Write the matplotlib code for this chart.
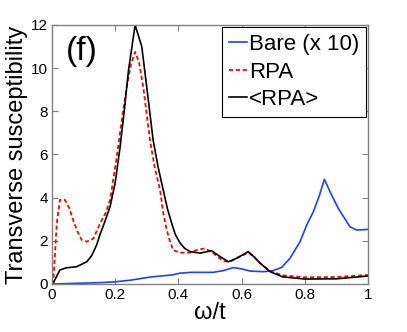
import matplotlib
matplotlib.use("Agg")
import matplotlib.pyplot as plt
from matplotlib.ticker import FuncFormatter

plt.rcParams['font.family'] = ['Liberation Sans', 'DejaVu Sans']

# Bare susceptibility (x 10)
w_bare = [0, 0.05, 0.1, 0.15, 0.2, 0.25, 0.31, 0.38, 0.405, 0.44, 0.51, 0.542, 0.574, 0.6, 0.627,
          0.669, 0.7, 0.727, 0.753, 0.785, 0.806, 0.827, 0.845, 0.862, 0.88, 0.906, 0.943, 0.964, 1.0]
chi_bare = [0, 0.02, 0.04, 0.06, 0.1, 0.18, 0.32, 0.42, 0.5, 0.54, 0.54, 0.62, 0.76, 0.7, 0.6,
            0.57, 0.62, 0.77, 1.19, 1.96, 2.73, 3.35, 4.05, 4.85, 4.27, 3.5, 2.65, 2.5, 2.53]

# RPA
w_rpa = [0, 0.004, 0.015, 0.025, 0.041, 0.055, 0.067, 0.08, 0.094, 0.11, 0.131, 0.152, 0.17,
         0.184, 0.205, 0.221, 0.236, 0.25, 0.263, 0.275, 0.289, 0.31, 0.325, 0.342, 0.352,
         0.363, 0.373, 0.383, 0.405, 0.437, 0.458, 0.484, 0.51, 0.542, 0.563, 0.584, 0.621,
         0.64, 0.658, 0.69, 0.73, 0.8, 0.9, 1.0]
chi_rpa = [0, 0.05, 2.8, 3.9, 3.9, 3.5, 2.96, 2.45, 2.04, 1.96, 2.1, 2.8, 3.3,
           3.9, 5.9, 7.6, 9.1, 10.2, 10.75, 10.3, 9.1, 6.67, 5.4, 4.35, 3.3,
           2.5, 2.0, 1.57, 1.45, 1.45, 1.57, 1.65, 1.43, 1.06, 1.03, 1.2, 1.45,
           1.25, 0.97, 0.6, 0.4, 0.31, 0.32, 0.42]

# <RPA>
w_avg = [0, 0.004, 0.025, 0.046, 0.078, 0.11, 0.125, 0.141, 0.152, 0.165, 0.184, 0.2, 0.215,
         0.23, 0.242, 0.263, 0.284, 0.3, 0.32, 0.336, 0.352, 0.365, 0.379, 0.39, 0.405, 0.42,
         0.437, 0.468, 0.505, 0.532, 0.558, 0.584, 0.621, 0.64, 0.658, 0.69, 0.73, 0.8, 0.9, 1.0]
chi_avg = [0, 0.05, 0.65, 0.75, 0.8, 1.03, 1.3, 1.8, 2.3, 2.8, 3.6, 4.7, 6.3,
           8.2, 9.9, 12.0, 11.0, 9.1, 6.67, 5.4, 4.35, 3.5, 2.8, 2.3, 1.9, 1.65,
           1.5, 1.43, 1.54, 1.27, 1.03, 1.19, 1.5, 1.25, 0.97, 0.57, 0.33, 0.23, 0.24, 0.37]

SPINE = '#808080'

fig = plt.figure(figsize=(4.07, 3.32), dpi=100)
ax = fig.add_axes([0.1278, 0.1446, 0.7764, 0.7801])

ax.plot(w_bare, chi_bare, color='#2040ff', lw=1.2, label='Bare (x 10)')
ax.plot(w_rpa, chi_rpa, color='red', lw=1.3, ls=(0, (2.3, 1.5)), label='RPA')
ax.plot(w_avg, chi_avg, color='black', lw=1.2, label='<RPA>')

ax.set_xlim(0, 1)
ax.set_ylim(0, 12)
ax.set_xticks([0, 0.2, 0.4, 0.6, 0.8, 1])
ax.set_yticks([0, 2, 4, 6, 8, 10, 12])
ax.xaxis.set_major_formatter(FuncFormatter(lambda v, p: f"{v:g}"))
ax.tick_params(direction='in', length=4, color=SPINE, labelsize=11,
               top=True, right=True, pad=3)
for s in ax.spines.values():
  s.set_color(SPINE)
  s.set_linewidth(1.0)

ax.set_xlabel('ω/t', fontsize=17, labelpad=0)
ax.set_ylabel('Transverse susceptibility', fontsize=17, labelpad=2)

ax.text(0.095, 0.896, '(f)', transform=ax.transAxes, fontsize=24,
        ha='center', va='center')

leg = ax.legend(loc='upper right', fontsize=16, fancybox=False, framealpha=1,
                edgecolor='black', borderaxespad=0.1, handlelength=0.8,
                handletextpad=0.1, labelspacing=0.3, borderpad=0.3)
leg.get_frame().set_linewidth(0.8)

fig.savefig('out.png', dpi=100)
